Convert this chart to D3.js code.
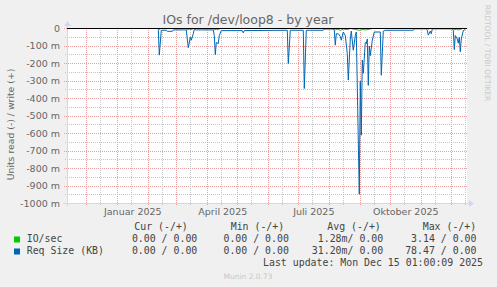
<!DOCTYPE html>
<html>
<head>
<meta charset="utf-8">
<script src="https://cdn.jsdelivr.net/npm/d3@7/dist/d3.min.js"></script>
<style>
  html, body { margin: 0; padding: 0; background: #f0f0f0; }
  svg { display: block; }
  text { font-family: 'DejaVu Sans', sans-serif; fill: #666; }
  .mono { font-family: 'DejaVu Sans Mono', monospace; font-size: 9.9px; fill: #444; }
</style>
</head>
<body>
<script>
// ----------------------------DATA-------------------------------//
// Req Size (KB), read side (drawn negative)
const reqDates = [
  '2025-02-11', '2025-02-12', '2025-02-14', '2025-02-19', '2025-02-20', '2025-02-25', '2025-02-26',
  '2025-03-11', '2025-03-12', '2025-03-13', '2025-03-15', '2025-03-16', '2025-03-18', '2025-03-19', '2025-03-21',
  '2025-04-07', '2025-04-08', '2025-04-09', '2025-04-10', '2025-04-12', '2025-04-13', '2025-04-15',
  '2025-05-06', '2025-05-07', '2025-05-08',
  '2025-06-20', '2025-06-21', '2025-06-23',
  '2025-07-06', '2025-07-07', '2025-07-09', '2025-07-26', '2025-07-27',
  '2025-08-05', '2025-08-06', '2025-08-07', '2025-08-08', '2025-08-10', '2025-08-12', '2025-08-13',
  '2025-08-15', '2025-08-17', '2025-08-19', '2025-08-20', '2025-08-22', '2025-08-23', '2025-08-25',
  '2025-08-27', '2025-08-28', '2025-08-31', '2025-09-01', '2025-09-02', '2025-09-03', '2025-09-04',
  '2025-09-06', '2025-09-07', '2025-09-08', '2025-09-09', '2025-09-10', '2025-09-11', '2025-09-13',
  '2025-09-15', '2025-09-21', '2025-09-22', '2025-09-24', '2025-09-26',
  '2025-10-24', '2025-10-25', '2025-11-06', '2025-11-07', '2025-11-08', '2025-11-10', '2025-11-11', '2025-11-12',
  '2025-12-02', '2025-12-03', '2025-12-04', '2025-12-05', '2025-12-07', '2025-12-08', '2025-12-09',
  '2025-12-10', '2025-12-11', '2025-12-13', '2025-12-15'
];
const reqRead = [
  0.005, 0.152, 0.010, 0.010, 0.016, 0.016, 0.008,
  0.008, 0.060, 0.110, 0.050, 0.067, 0.030, 0.005, 0.008,
  0.008, 0.040, 0.149, 0.080, 0.086, 0.040, 0.012,
  0.012, 0.025, 0.012,
  0.010, 0.200, 0.010,
  0.010, 0.343, 0.010, 0.010, 0.003,
  0.003, 0.010, 0.095, 0.030, 0.030, 0.045, 0.067,
  0.020, 0.040, 0.143, 0.295, 0.060, 0.015, 0.124,
  0.040, 0.020, 0.947, 0.300, 0.610, 0.180, 0.256,
  0.080, 0.086, 0.060, 0.325, 0.100, 0.155, 0.067,
  0.020, 0.020, 0.267, 0.015, 0.010,
  0.010, 0.002, 0.002, 0.010, 0.038, 0.015, 0.030, 0.002,
  0.002, 0.010, 0.120, 0.040, 0.060, 0.084, 0.050,
  0.133, 0.060, 0.012, 0.005
];

// IO/sec, read side (drawn negative)
const ioDates = [
  '2025-02-11', '2025-02-12', '2025-02-13', '2025-02-14',
  '2025-03-11', '2025-03-12', '2025-03-14', '2025-03-16', '2025-03-18',
  '2025-04-07', '2025-04-08', '2025-04-10', '2025-04-12', '2025-04-14',
  '2025-08-05', '2025-08-07', '2025-08-09', '2025-08-12', '2025-08-15', '2025-08-19', '2025-08-22',
  '2025-08-27', '2025-08-31', '2025-09-03', '2025-09-07', '2025-09-10', '2025-09-13',
  '2025-11-07', '2025-11-08', '2025-11-10',
  '2025-12-03', '2025-12-04', '2025-12-06', '2025-12-08', '2025-12-10', '2025-12-12', '2025-12-15'
];
const ioRead = [
  0, 0.006, 0.002, 0,
  0, 0.008, 0.004, 0.006, 0,
  0, 0.008, 0.004, 0.006, 0,
  0, 0.008, 0.004, 0.010, 0.003, 0.006, 0,
  0.005, 0.010, 0.006, 0.008, 0.004, 0,
  0, 0.004, 0,
  0, 0.008, 0.004, 0.008, 0.006, 0, 0
];

const yTicks = [0, -0.1, -0.2, -0.3, -0.4, -0.5, -0.6, -0.7, -0.8, -0.9, -1.0];
const yTickLabels = ['0', '-100 m', '-200 m', '-300 m', '-400 m', '-500 m', '-600 m', '-700 m', '-800 m', '-900 m', '-1000 m'];
const xLabelMonths = ['2025-01-01', '2025-04-01', '2025-07-01', '2025-10-01'];
const xLabels = ['Januar 2025', 'April 2025', 'Juli 2025', 'Oktober 2025'];

const legendNames = ['IO/sec', 'Req Size (KB)'];
const legendColors = ['#00cc00', '#0066b3'];
const legendCur = ['0.00 / 0.00', '0.00 / 0.00'];
const legendMin = ['0.00 / 0.00', '0.00 / 0.00'];
const legendAvg = ['1.28m/ 0.00', '31.20m/ 0.00'];
const legendMax = ['3.14 / 0.00', '78.47 / 0.00'];

// ----------------------------SETUP------------------------------//
const width = 497;
const height = 287;
const pl = 67, pr = 467, pt = 28, pb = 203;

const svg = d3.select('body').append('svg')
  .attr('width', width)
  .attr('height', height);

svg.append('rect').attr('width', width).attr('height', height).attr('fill', '#f0f0f0');

const parse = d3.utcParse('%Y-%m-%d');
const start = new Date(Date.UTC(2024, 10, 11, 17));
const end = d3.utcDay.offset(start, 400);

const x = d3.scaleUtc().domain([start, end]).range([pl, pr]);
const y = d3.scaleLinear().domain([-1, 0]).range([pb, pt]);

// canvas
svg.append('rect')
  .attr('x', pl).attr('y', pt)
  .attr('width', pr - pl).attr('height', pb - pt)
  .attr('fill', '#fff');

// -----------------------------GRID------------------------------//
const grid = svg.append('g');
const minorColor = '#c4c4c4';
const majorColor = '#eba0a0';

const yMinor = d3.range(-0.95, 0, 0.1);
grid.selectAll('.hminor').data(yMinor).enter().append('line')
  .attr('x1', pl - 2).attr('x2', pr)
  .attr('y1', d => Math.round(y(d)) + 0.5).attr('y2', d => Math.round(y(d)) + 0.5)
  .attr('stroke', minorColor).attr('stroke-dasharray', '1,1');
grid.selectAll('.hmajor').data(yTicks).enter().append('line')
  .attr('x1', pl - 3).attr('x2', pr)
  .attr('y1', d => Math.round(y(d)) + 0.5).attr('y2', d => Math.round(y(d)) + 0.5)
  .attr('stroke', majorColor).attr('stroke-dasharray', '1,1');

const months = d3.utcMonth.range(d3.utcMonth.ceil(start), end);
const mids = months.map(d => d3.utcDay.offset(d, 14)).filter(d => d < end);
grid.selectAll('.vminor').data(mids).enter().append('line')
  .attr('x1', d => Math.round(x(d)) + 0.5).attr('x2', d => Math.round(x(d)) + 0.5)
  .attr('y1', pt).attr('y2', pb + 2)
  .attr('stroke', minorColor).attr('stroke-dasharray', '1,1');
grid.selectAll('.vmajor').data(months).enter().append('line')
  .attr('x1', d => Math.round(x(d)) + 0.5).attr('x2', d => Math.round(x(d)) + 0.5)
  .attr('y1', pt).attr('y2', pb + 3)
  .attr('stroke', majorColor).attr('stroke-dasharray', '1,1');

// -----------------------------AXES------------------------------//
const yAxis = d3.axisLeft(y)
  .tickValues(yTicks)
  .tickFormat((d, i) => yTickLabels[i])
  .tickSize(0)
  .tickPadding(7);
const gy = svg.append('g').attr('transform', `translate(${pl},0)`).call(yAxis);
gy.select('.domain').remove();
gy.selectAll('text').attr('fill', '#666').style('font-size', '9.5px');

const xAxis = d3.axisBottom(x)
  .tickValues(xLabelMonths.map(d => d3.utcDay.offset(parse(d), 15)))
  .tickFormat((d, i) => xLabels[i])
  .tickSize(0)
  .tickPadding(5);
const gx = svg.append('g').attr('transform', `translate(0,${pb})`).call(xAxis);
gx.select('.domain').remove();
gx.selectAll('text').attr('fill', '#666').style('font-size', '9.5px');

// axis lines + arrows
const axisColor = '#cfd6f8';
svg.append('line')
  .attr('x1', pl - 4).attr('x2', pr + 3)
  .attr('y1', pb + 0.5).attr('y2', pb + 0.5)
  .attr('stroke', axisColor);
svg.append('path')
  .attr('d', `M${pr + 2},${pb - 3}L${pr + 7},${pb + 0.5}L${pr + 2},${pb + 4}Z`)
  .attr('fill', axisColor);
svg.append('line')
  .attr('x1', pl + 0.5).attr('x2', pl + 0.5)
  .attr('y1', pb + 3).attr('y2', pt - 3)
  .attr('stroke', axisColor);
svg.append('path')
  .attr('d', `M${pl - 3},${pt - 2}L${pl + 0.5},${pt - 7}L${pl + 4},${pt - 2}Z`)
  .attr('fill', axisColor);

// ----------------------------LINES------------------------------//
const line = d3.line()
  .x(d => x(d.date))
  .y(d => y(d.value) + 0.5);

const ioData = ioDates.map((d, i) => ({ date: parse(d), value: -ioRead[i] }));
const reqData = reqDates.map((d, i) => ({ date: parse(d), value: -reqRead[i] }));

svg.append('path').datum(ioData)
  .attr('d', line).attr('fill', 'none')
  .attr('stroke', legendColors[0]).attr('stroke-width', 1);
svg.append('path').datum(reqData)
  .attr('d', line).attr('fill', 'none')
  .attr('stroke', legendColors[1]).attr('stroke-width', 1);

// zero line on top
svg.append('line')
  .attr('x1', pl).attr('x2', pr)
  .attr('y1', y(0) + 0.5).attr('y2', y(0) + 0.5)
  .attr('stroke', '#000');

// ----------------------------TEXTS------------------------------//
svg.append('text')
  .attr('x', 248).attr('y', 23.5)
  .attr('text-anchor', 'middle')
  .style('font-size', '12.5px')
  .text('IOs for /dev/loop8 - by year');

svg.append('text')
  .attr('transform', 'translate(14,124.5) rotate(-90)')
  .attr('text-anchor', 'middle')
  .style('font-size', '9.3px')
  .text('Units read (-) / write (+)');

svg.append('text')
  .attr('transform', 'translate(485,53) rotate(90)')
  .attr('text-anchor', 'middle')
  .style('font-size', '7.5px')
  .style('fill', '#c8c8c8')
  .text('RRDTOOL / TOBI OETIKER');

// ----------------------------LEGEND-----------------------------//
const legend = svg.append('g');
const headers = [['Cur (-/+)', 134.3], ['Min (-/+)', 230.7], ['Avg (-/+)', 327.3], ['Max (-/+)', 422.7]];
legend.selectAll('.hdr').data(headers).enter().append('text')
  .attr('class', 'mono')
  .attr('x', d => d[1]).attr('y', 229.5)
  .text(d => d[0]);

const rowY = [242, 254];
legendNames.forEach((name, i) => {
  legend.append('rect')
    .attr('x', 14).attr('y', rowY[i] - 5.5)
    .attr('width', 6).attr('height', 6)
    .attr('fill', legendColors[i]);
  legend.append('text').attr('class', 'mono')
    .attr('x', 26.7).attr('y', rowY[i]).text(name);
  [[legendCur, 197.3], [legendMin, 288.9], [legendAvg, 383.2], [legendMax, 476.5]].forEach(([col, xe]) => {
    legend.append('text').attr('class', 'mono')
      .attr('x', xe).attr('y', rowY[i])
      .attr('text-anchor', 'end')
      .text(col[i]);
  });
});

legend.append('text').attr('class', 'mono')
  .attr('x', 483).attr('y', 266)
  .attr('text-anchor', 'end')
  .text('Last update: Mon Dec 15 01:00:09 2025');

svg.append('text')
  .attr('x', 248).attr('y', 279)
  .attr('text-anchor', 'middle')
  .style('font-size', '7.5px')
  .style('fill', '#c8c8c8')
  .text('Munin 2.0.73');
</script>
</body>
</html>
